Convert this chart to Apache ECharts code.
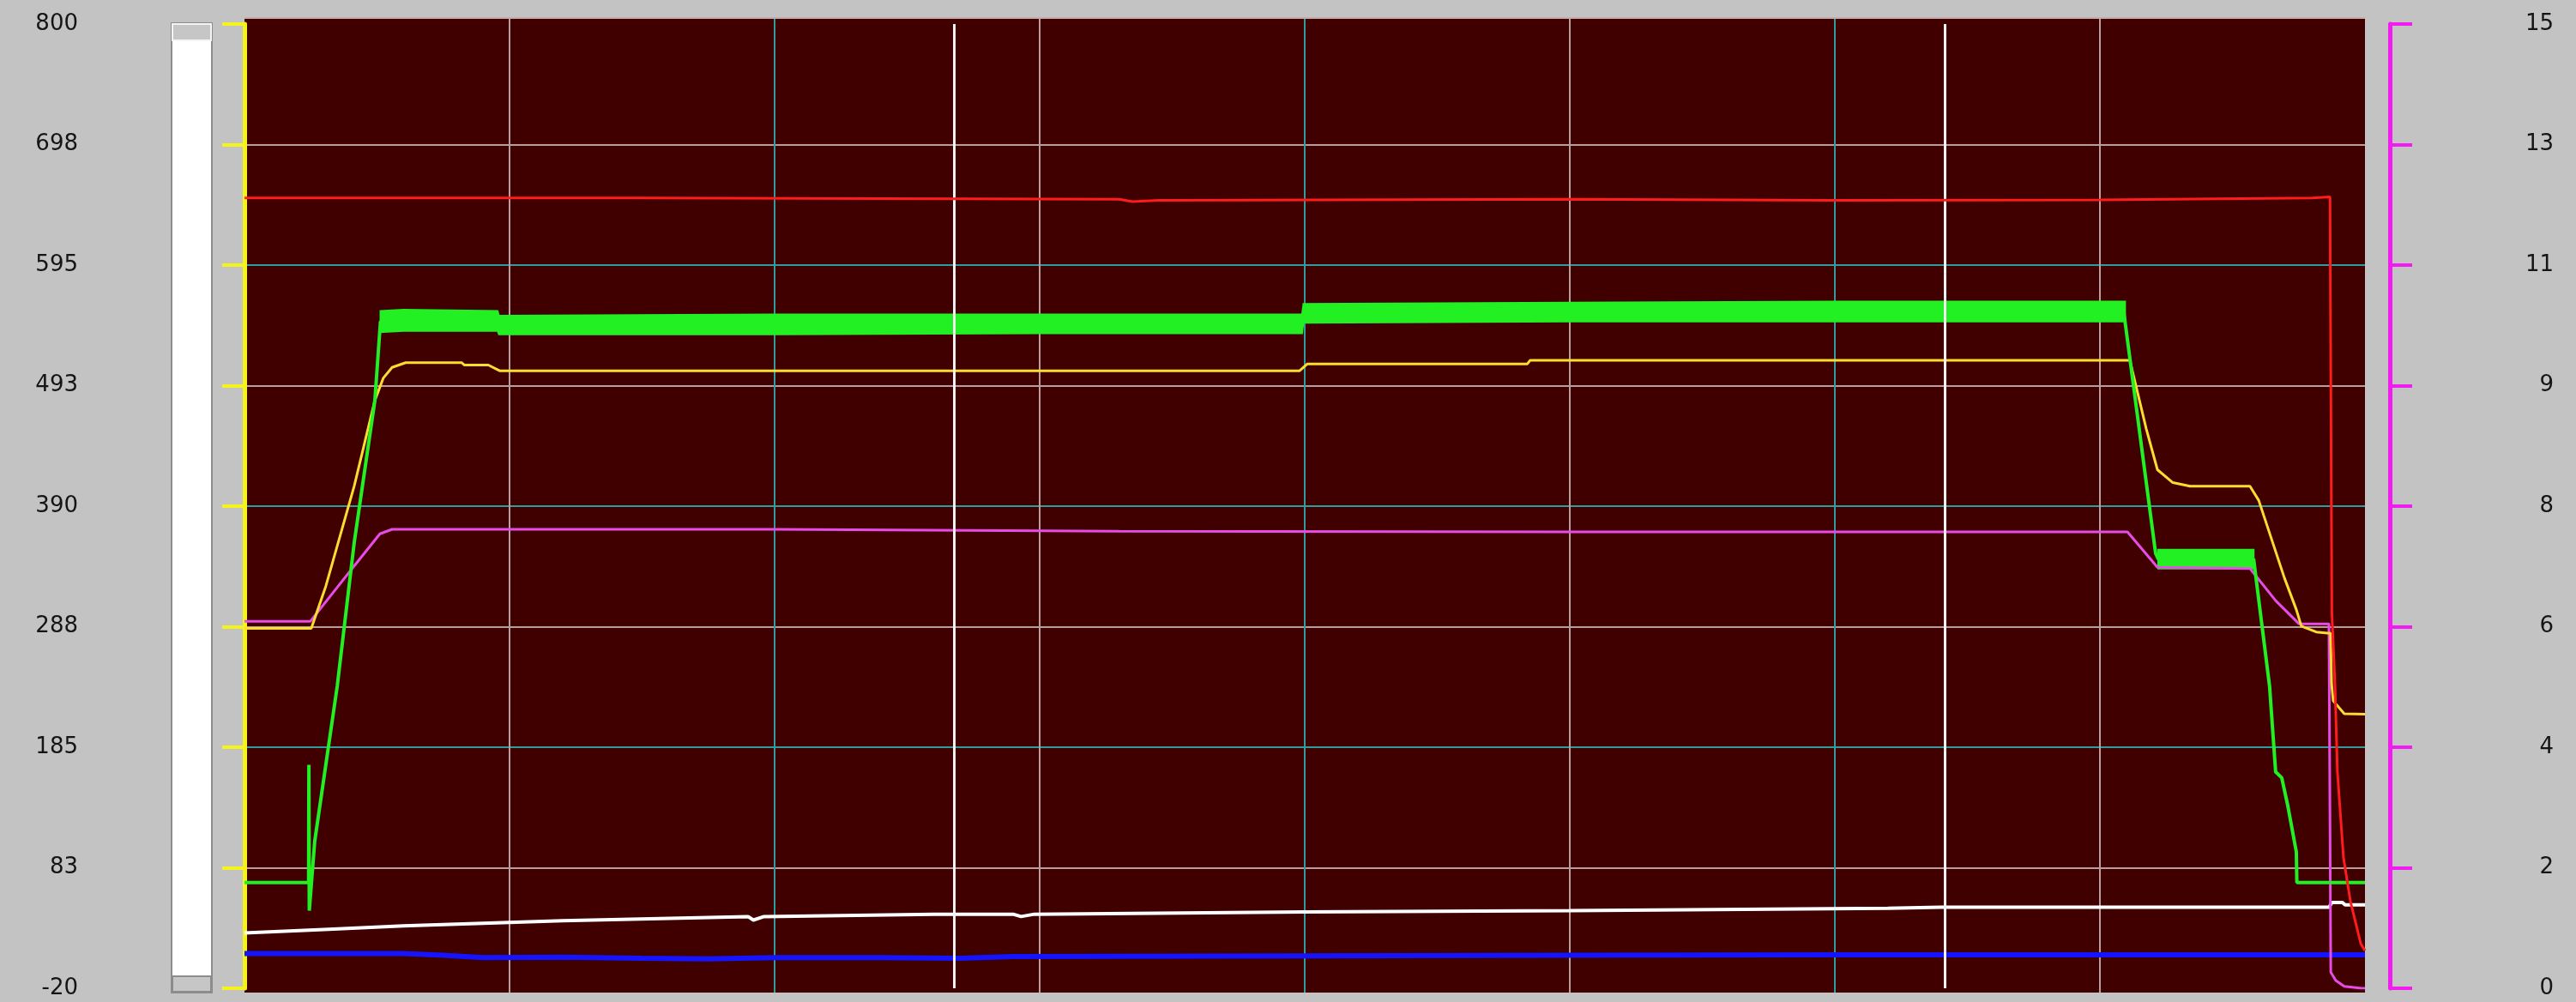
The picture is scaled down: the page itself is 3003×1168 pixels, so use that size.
<!DOCTYPE html>
<html><head><meta charset="utf-8">
<script src="https://cdn.jsdelivr.net/npm/echarts@6/dist/echarts.min.js"></script>
<style>html,body{margin:0;padding:0;background:#c3c3c3;overflow:hidden}#c{width:3003px;height:1168px;}</style>
</head><body><div id="c"></div>
<script>
// ---- axis ticks ----
const leftTicks  = [-20, 82.5, 185, 287.5, 390, 492.5, 595, 697.5, 800];
const rightTicks = [0, 1.875, 3.75, 5.625, 7.5, 9.375, 11.25, 13.125, 15];
const cursorX = [267.6, 641.4];

// ---- series (x in time units 0..800) ----
const redX = [0, 150, 330, 335, 345, 500, 600, 700, 780, 786.8, 787.1, 787.5, 788.7, 789.6, 791.9, 794.5, 798.4, 800];
const redY = [652, 652, 651, 649, 650, 651, 650, 650.5, 652, 653, 500, 300, 237, 164, 91, 54, 18, 12];

const greenX = [0, 24.2, 24.3, 24.45, 26.5, 35, 41.4, 49.2, 51.3, 95.5, 96, 399, 399.5, 709, 721, 722, 758, 764, 766.3, 768.6, 770.9, 774.1, 774.3, 800];
const greenY = [70, 70, 170, 46, 105, 237, 359, 480, 547, 548, 544, 545, 554, 555, 350, 345, 345, 237, 164, 159, 135, 96, 70, 70];

// noise envelope of the green trace on its plateaus
const band1X    = [51.3, 60, 95.5, 96, 200, 300, 399, 399.5, 500, 600, 709.5];
const band1Low  = [538, 539, 539, 536, 536, 537, 537, 546, 547, 547, 547];
const band1High = [556, 557, 556, 552, 553, 553, 553, 562, 563, 564, 564];
const band2X    = [722, 758];
const band2Low  = [337, 337];
const band2High = [353, 353];

const yellowX = [0, 25.2, 30.7, 41.4, 49.2, 52.4, 55.7, 60.8, 82, 83, 92, 96.4, 200, 398, 401, 484, 485, 711.3, 717.5, 721.7, 727.5, 734, 756.6, 759.9, 769.6, 774.1, 776, 781.6, 785.8, 787, 787.4, 788, 792.2, 800];
const yellowY = [286, 286, 322, 407, 480, 499, 508, 512, 512, 510, 510, 505, 505, 505, 511, 511, 514, 514, 455.6, 421, 410, 407, 407, 395, 329, 302, 288, 283, 282, 282, 239, 224.5, 213.4, 213];

const magentaX = [0, 24.9, 41.4, 51.1, 55.7, 200, 330, 500, 710.4, 721.7, 756.6, 766.3, 775.1, 786.4, 787.1, 789, 792.2, 798.7, 800];
const magentaY = [5.71, 5.71, 6.57, 7.07, 7.14, 7.14, 7.11, 7.10, 7.10, 6.55, 6.53, 6.03, 5.67, 5.67, 0.25, 0.12, 0.03, 0.0, 0.0];

const whiteX = [0, 30, 60, 120, 190, 192, 196, 260, 290, 293, 298, 400, 500, 620, 640, 786.5, 787.5, 791.5, 792.5, 800];
const whiteY = [27, 30, 33, 37.5, 41, 38, 41, 43, 43, 41, 43, 45, 46, 48, 49, 49, 53, 53, 51, 51];

const blueX = [0, 60, 75, 90, 120, 150, 175, 200, 240, 270, 290, 400, 500, 600, 800];
const blueY = [9.5, 9.5, 8, 6, 6.5, 5.5, 5, 6, 6, 5.5, 7, 7.5, 8, 8.5, 8.5];

const zip = (xs, ys) => xs.map((x, i) => [x, ys[i]]);
const GRID_CYAN = '#2f9c9e', GRID_GREY = '#b89e9e';

function line(name, xs, ys, color, width, yAxisIndex, extra) {
  return Object.assign({
    name, type: 'line', xAxisIndex: 1, yAxisIndex: yAxisIndex,
    data: zip(xs, ys), symbol: 'none', showSymbol: false, animation: false,
    lineStyle: { color, width }, itemStyle: { color }, silent: true
  }, extra || {});
}
function band(xs, lo, hi, color) {
  return {
    type: 'custom', xAxisIndex: 1, yAxisIndex: 0, animation: false, silent: true, z: 3,
    data: [[xs[0], lo[0]]],
    encode: { x: 0, y: 1 },
    renderItem: function (params, api) {
      const top = xs.map((x, i) => api.coord([x, hi[i]]));
      const bot = xs.map((x, i) => api.coord([x, lo[i]])).reverse();
      return { type: 'polygon', shape: { points: top.concat(bot) }, style: { fill: color, stroke: color, lineWidth: 2 } };
    }
  };
}

const chart = echarts.init(document.getElementById('c'), null, { renderer: 'canvas' });
const labelFont = { fontFamily: 'DejaVu Sans', fontSize: 26, color: '#151515' };

chart.setOption({
  backgroundColor: '#c3c3c3',
  animation: false,
  grid: [
    { left: 285, right: 246, top: 22, bottom: 11, show: true, backgroundColor: '#400000', borderWidth: 0 },
    { left: 285, right: 246, top: 28, bottom: 16, show: false }
  ],
  xAxis: [
    { type: 'value', gridIndex: 0, min: 0, max: 800, interval: 100,
      axisLine: { show: false }, axisTick: { show: false }, axisLabel: { show: false },
      splitLine: { show: true, showMinLine: false, showMaxLine: false, lineStyle: { color: [GRID_GREY, GRID_CYAN], width: 2 } } },
    { type: 'value', gridIndex: 1, min: 0, max: 800, show: false, splitLine: { show: false } }
  ],
  yAxis: [
    { type: 'value', gridIndex: 1, position: 'left', offset: 131, min: -20, max: 800,
      axisLine: { show: true, lineStyle: { color: '#f4f41c', width: 5 } },
      axisTick: { show: true, inside: false, length: 26, customValues: leftTicks, lineStyle: { color: '#f4f41c', width: 4 } },
      axisLabel: Object.assign({ margin: 63, customValues: leftTicks, formatter: v => String(Math.round(v)) }, labelFont),
      splitLine: { show: false } },
    { type: 'value', gridIndex: 1, position: 'right', offset: 29, min: 0, max: 15, interval: 1.875,
      axisLine: { show: true, lineStyle: { color: '#f01cf0', width: 5 } },
      axisTick: { show: true, inside: false, length: 26, lineStyle: { color: '#f01cf0', width: 4 } },
      axisLabel: Object.assign({ margin: 191, align: 'right', formatter: v => String(Math.round(v)) }, labelFont),
      splitLine: { show: true, showMinLine: false, showMaxLine: false, lineStyle: { color: [GRID_GREY, GRID_CYAN], width: 2 } } },
    { type: 'value', gridIndex: 0, min: 0, max: 1, show: false, splitLine: { show: false } }
  ],
  graphic: [
    { type: 'line', shape: { x1: 285, y1: 21, x2: 2757, y2: 21 }, style: { stroke: '#c4aaaa', lineWidth: 2 }, z: 10 },
    { type: 'rect', shape: { x: 200, y: 27, width: 47, height: 1130 }, style: { fill: '#ffffff', stroke: '#8c8c8c', lineWidth: 2 } },
    { type: 'rect', shape: { x: 201, y: 28, width: 45, height: 19 }, style: { fill: '#c6c6c6', stroke: '#f4f4f4', lineWidth: 2 } },
    { type: 'rect', shape: { x: 201, y: 1138, width: 45, height: 18 }, style: { fill: '#c6c6c6', stroke: '#8c8c8c', lineWidth: 2 } }
  ],
  series: [
    line('blue', blueX, blueY, '#1414ff', 6, 0, {
      z: 2,
      markLine: { silent: true, symbol: 'none', animation: false, label: { show: false },
        lineStyle: { color: '#f2f2f2', width: 3, type: 'solid' },
        data: cursorX.map(x => ({ xAxis: x })) }
    }),
    line('white', whiteX, whiteY, '#ffffff', 4, 0, { z: 2 }),
    line('magenta', magentaX, magentaY, '#e84ce8', 3, 1, { z: 3 }),
    line('yellow', yellowX, yellowY, '#ffdc30', 3, 0, { z: 3 }),
    band(band1X, band1Low, band1High, '#22f022'),
    band(band2X, band2Low, band2High, '#22f022'),
    line('green', greenX, greenY, '#22f022', 4, 0, { z: 4 }),
    line('red', redX, redY, '#ff1c1c', 3, 0, { z: 5 })
  ]
});
</script>
</body></html>
